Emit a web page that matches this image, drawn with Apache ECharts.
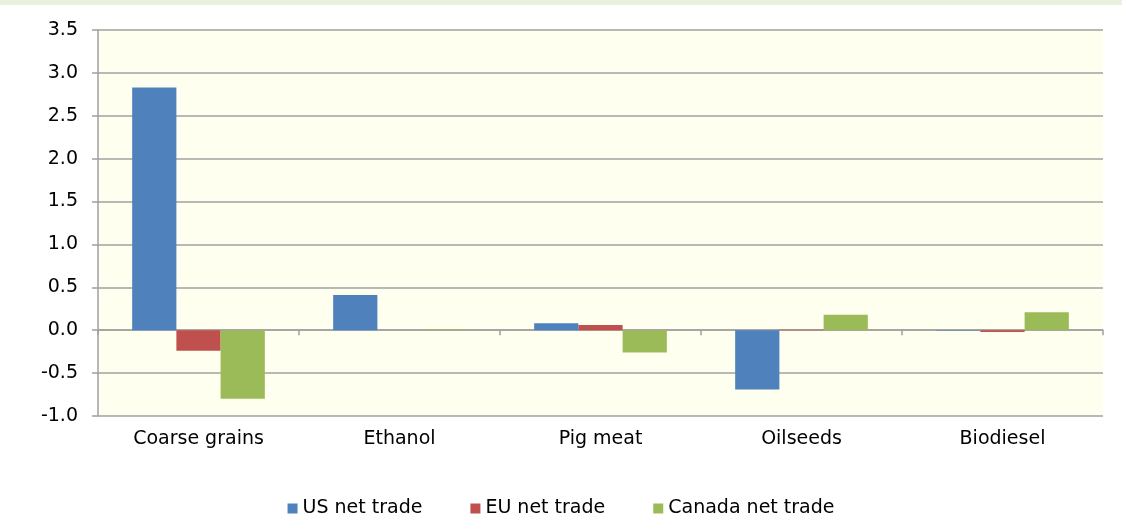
<!DOCTYPE html>
<html lang="en">
  <head>
    <meta charset="UTF-8" />
    <title>Net trade chart</title>
    <style>
      html, body { margin: 0; padding: 0; background: #fff; }
      #chart { width: 1122px; height: 529px; }
    </style>
  </head>
  <body>
    <div id="chart"></div>

    <script src="https://cdn.jsdelivr.net/npm/echarts@6/dist/echarts.min.js"></script>
    <script>
      // data
      const categories = ['Coarse grains', 'Ethanol', 'Pig meat', 'Oilseeds', 'Biodiesel'];
      const usNetTrade = [2.83, 0.41, 0.08, -0.69, -0.005];
      const euNetTrade = [-0.24, 0.0, 0.06, 0.005, -0.02];
      const canadaNetTrade = [-0.8, 0.008, -0.26, 0.18, 0.21];
      const yTicks = { min: -1.0, max: 3.5, step: 0.5 };

      const font = 'DejaVu Sans, Verdana, sans-serif';
      const gridColor = '#a0a0a0';
      const textSize = 19;

      function bar(name, data, color) {
        return {
          name: name,
          type: 'bar',
          data: data,
          barGap: '0%',
          barCategoryGap: '34%',
          itemStyle: { color: color },
        };
      }

      const chart = echarts.init(document.getElementById('chart'));
      chart.setOption({
        animation: false,
        textStyle: { fontFamily: font },
        graphic: [
          // strip of the cropped title band above the chart
          { type: 'rect', shape: { x: 0, y: 0, width: 1122, height: 5 }, style: { fill: '#e9f1dc' }, z: -1 },
        ],
        grid: {
          left: 98,
          right: 19,
          top: 30,
          bottom: 113,
          show: true,
          backgroundColor: '#fffff0',
          borderWidth: 0,
        },
        legend: {
          bottom: 6,
          left: 'center',
          itemWidth: 10,
          itemHeight: 10,
          itemGap: 48,
          icon: 'rect',
          textStyle: { fontSize: textSize, color: '#000', fontFamily: font },
          data: ['US net trade', 'EU net trade', 'Canada net trade'],
        },
        xAxis: [
          {
            type: 'category',
            data: categories,
            position: 'bottom',
            axisLine: { show: false, onZero: false },
            axisTick: { show: false },
            axisLabel: { margin: 14, fontSize: textSize, color: '#000', fontFamily: font },
          },
          {
            type: 'category',
            data: categories,
            position: 'bottom',
            axisLine: { show: true, onZero: true, lineStyle: { color: gridColor, width: 1.5 } },
            axisTick: { show: true, length: 5, lineStyle: { color: gridColor, width: 1.5 } },
            axisLabel: { show: false },
          },
        ],
        yAxis: {
          type: 'value',
          min: yTicks.min,
          max: yTicks.max,
          interval: yTicks.step,
          axisLine: { show: true, lineStyle: { color: gridColor, width: 1.5 } },
          axisTick: { show: true, length: 6, lineStyle: { color: gridColor, width: 1.5 } },
          splitLine: { show: true, lineStyle: { color: gridColor, width: 1.5 } },
          axisLabel: {
            margin: 20,
            fontSize: textSize,
            color: '#000',
            fontFamily: font,
            formatter: (v) => v.toFixed(1),
          },
        },
        series: [
          bar('US net trade', usNetTrade, '#4f81bd'),
          bar('EU net trade', euNetTrade, '#c0504d'),
          bar('Canada net trade', canadaNetTrade, '#9bbb59'),
        ],
      });
    </script>
  </body>
</html>
